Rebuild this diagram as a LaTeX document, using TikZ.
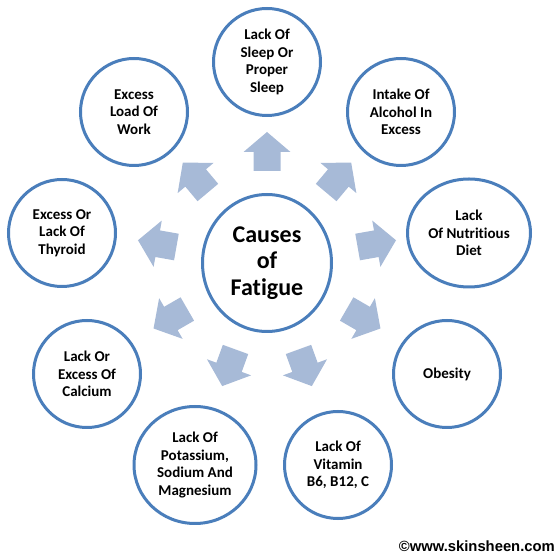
\documentclass[tikz,border=0pt]{standalone}
\usepackage{fontspec}
\setmainfont{Carlito}[Ligatures=NoCommon]
\newfontfamily\markfont{Liberation Sans}
\usetikzlibrary{shapes.geometric}
\definecolor{ringblue}{RGB}{74,126,187}
\definecolor{arrowblue}{RGB}{167,186,215}
\tikzset{
  cause/.style={ellipse, draw=ringblue, line width=3pt, fill=white, inner sep=0pt,
    minimum width=107pt, minimum height=107pt, align=center,
    font=\fontsize{15}{17.5}\selectfont\bfseries},
  hub/.style={ellipse, draw=ringblue, line width=3pt, fill=white, inner sep=0pt,
    minimum width=129pt, minimum height=137pt, align=center,
    font=\fontsize{24}{26.7}\selectfont\bfseries},
  blockarrow/.style={fill=arrowblue}
}
\begin{document}
\begin{tikzpicture}[x=1pt,y=1pt]
\useasboundingbox (0,0) rectangle (559,559);
\node[hub] (hub) at (267,296) {Causes\\of\\Fatigue};
\node[cause] (sleep) at (267,497) {Lack Of\\Sleep Or\\Proper\\Sleep};
\node[cause] (alcohol) at (401,447) {Intake Of\\Alcohol In\\Excess};
\node[cause, minimum width=123pt, minimum height=108pt] (diet) at (469,326) {Lack\\Of Nutritious\\Diet};
\node[cause] (obesity) at (447,185) {Obesity};
\node[cause] (vitamin) at (338,94) {Lack Of\\Vitamin\\B6, B12, C};
\node[cause, minimum width=122pt, minimum height=117pt] (potassium) at (195,94) {Lack Of\\Potassium,\\Sodium And\\Magnesium};
\node[cause] (calcium) at (87,185) {Lack Or\\Excess Of\\Calcium};
\node[cause] (thyroid) at (62,326) {Excess Or\\Lack Of\\Thyroid};
\node[cause] (work) at (134,447) {Excess\\Load Of\\Work};
\foreach \a in {90,50,10,-30,-70,-110,-150,170,130}{
  \begin{scope}[shift={(hub.center)}, rotate=\a, shift={(92,0)}]
    \fill[blockarrow] (0,-13.5) -- (19,-13.5) -- (19,-23.5) -- (39,0) -- (19,23.5) -- (19,13.5) -- (0,13.5) -- cycle;
  \end{scope}
}
\node[anchor=base east, inner sep=0pt, font=\markfont\fontsize{14.8}{16}\selectfont\bfseries] (mark) at (555,7) {©www.skinsheen.com};
\end{tikzpicture}
\end{document}
